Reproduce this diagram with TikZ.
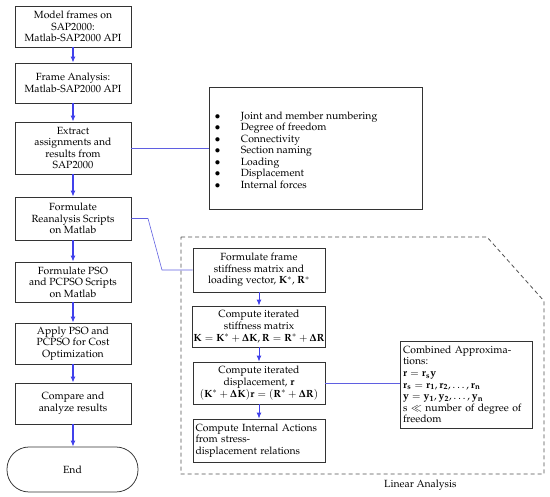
\documentclass[tikz,border=0pt]{standalone}
\usepackage[T1]{fontenc}
\usepackage{mathpazo}
\usetikzlibrary{arrows.meta}
\definecolor{arrowblue}{RGB}{65,65,235}
\definecolor{connblue}{RGB}{95,95,225}
\definecolor{dashgray}{RGB}{80,80,80}
\newcommand{\fsz}{\fontsize{10.4}{11.6}\selectfont}
\tikzset{
  box/.style={draw=black!80, line width=0.75pt, fill=white, minimum width=116pt, align=center, inner sep=1pt, font=\fsz},
  ibox/.style={draw=black!80, line width=0.75pt, fill=white, minimum width=132pt, align=center, inner sep=1pt, font=\fsz},
  arr/.style={-{Latex[length=6pt,width=5pt]}, draw=arrowblue, line width=1.1pt},
  conn/.style={draw=connblue, line width=0.6pt},
}
\begin{document}
\begin{tikzpicture}[x=1pt,y=-1pt]
\useasboundingbox (0,0) rectangle (550,497);
% left column
\node[box, minimum height=41pt] (b1) at (73,26.5) {Model frames on\\SAP2000:\\Matlab-SAP2000 API};
\node[box, minimum height=40pt] (b2) at (73,83) {Frame Analysis:\\Matlab-SAP2000 API};
\node[box, minimum height=52pt] (b3) at (73,148) {Extract\\assignments and\\results from\\SAP2000};
\node[box, minimum height=43pt] (b4) at (73,218.5) {Formulate\\Reanalysis Scripts\\on Matlab};
\node[box, minimum height=40pt] (b5) at (73,282) {Formulate PSO\\and PCPSO Scripts\\on Matlab};
\node[box, minimum height=41pt] (b6) at (73,343.5) {Apply PSO and\\PCPSO for Cost\\Optimization};
\node[box, minimum height=41pt] (b7) at (73,403.5) {Compare and\\analyze results};
\node[box, minimum width=131pt, minimum height=45pt, rounded corners=22pt] (end) at (72.5,469.5) {End};
\draw[arr] (b1) -- (b2);
\draw[arr] (b2) -- (b3);
\draw[arr] (b3) -- (b4);
\draw[arr] (b4) -- (b5);
\draw[arr] (b5) -- (b6);
\draw[arr] (b6) -- (b7);
\draw[arr] (b7) -- (end.north -| b7);
% bullet box
\node[draw=black!80, line width=0.75pt, minimum width=213pt, minimum height=122pt, inner sep=0pt] (bl) at (315.5,148) {};
\node[anchor=west, font=\fsz, align=left, inner sep=0pt] (bltext) at (214.5,151.5)
  {\begin{tabular}{@{}l@{\hspace{20.5pt}}l@{}}
   $\bullet$ & Joint and member numbering\\[-0.1pt]
   $\bullet$ & Degree of freedom\\[-0.1pt]
   $\bullet$ & Connectivity\\[-0.1pt]
   $\bullet$ & Section naming\\[-0.1pt]
   $\bullet$ & Loading\\[-0.1pt]
   $\bullet$ & Displacement\\[-0.1pt]
   $\bullet$ & Internal forces
   \end{tabular}};
\draw[conn] (b3.east) -- (bl.west |- b3.east);
% dashed region
\coordinate (p1) at (181,237);
\coordinate (p2) at (487,237);
\coordinate (p3) at (544,301);
\coordinate (p4) at (544,474);
\coordinate (p5) at (181,474);
\draw[dashgray, line width=0.8pt, dash pattern=on 4pt off 3pt] (p1) -- (p2) -- (p3) -- (p4) -- (p5) -- cycle;
\node[anchor=west, font=\fsz, inner sep=0pt] (lin) at (384,485) {Linear Analysis};
% inner boxes
\node[ibox, minimum height=44pt] (ia) at (259,270) {Formulate frame\\stiffness matrix and\\loading vector, $\mathbf{K^{*}}$, $\mathbf{R^{*}}$};
\node[ibox, minimum height=41pt] (ib) at (259,326.5) {Compute iterated\\stiffness matrix\\$\mathbf{K}=\mathbf{K}^{*}+\mathbf{\Delta K},\mathbf{R}=\mathbf{R}^{*}+\mathbf{\Delta R}$};
\node[ibox, minimum height=42pt] (ic) at (259,383) {Compute iterated\\displacement, $\mathbf{r}$\\$(\mathbf{K}^{*}+\mathbf{\Delta K})\mathbf{r}=(\mathbf{R}^{*}+\mathbf{\Delta R})$};
\node[ibox, minimum height=43pt, align=left, text width=127pt, inner xsep=2.5pt] (id) at (259,440.5) {\hyphenpenalty=10000 Compute Internal Actions\\from stress-\\displacement relations};
\draw[arr, line width=0.9pt] (ia) -- (ib);
\draw[arr, line width=0.9pt] (ib) -- (ic);
\draw[arr, line width=0.9pt] (ic) -- (id);
% connector from b4
\coordinate (k1) at (148,218.5);
\coordinate (k2) at (162,270);
\draw[conn] (b4.east) -- (k1) -- (k2) -- (ia.west);
% combined box
\node[ibox, minimum height=87pt, align=left, text width=126pt, inner xsep=3pt] (ca) at (466,384.5)
  {Combined Approxima-\\tions:\\$\mathbf{r}=\mathbf{r_{s}y}$\\$\mathbf{r_{s}}=\mathbf{r_{1}},\mathbf{r_{2}},\ldots,\mathbf{r_{n}}$\\$\mathbf{y}=\mathbf{y_{1}},\mathbf{y_{2}},\ldots,\mathbf{y_{n}}$\\s $\ll$ number of degree of\\freedom};
\draw[conn] (ic.east) -- (ca.west |- ic.east);
\end{tikzpicture}
\end{document}
